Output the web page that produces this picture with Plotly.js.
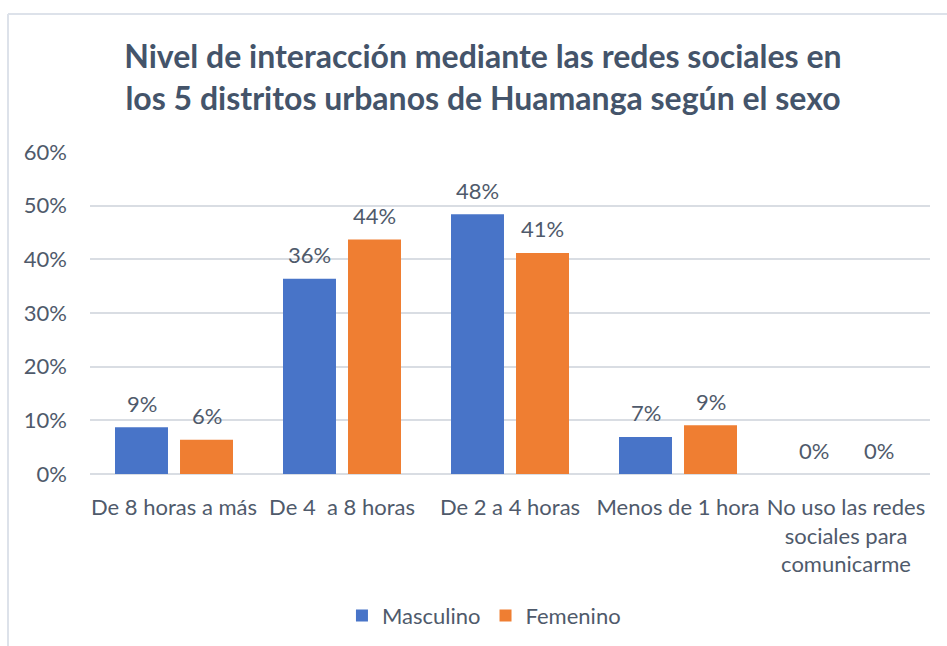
<!DOCTYPE html>
<html>
<head>
<meta charset="utf-8">
<script src="https://cdn.plot.ly/plotly-3.0.1.min.js"></script>
<style>html,body{margin:0;padding:0;background:#fff;}#chart{width:947px;height:646px;}</style>
</head>
<body>
<div id="chart"></div>
<script>
var categories = ["De 8 horas a más", "De 4  a 8 horas", "De 2 a 4 horas", "Menos de 1 hora", "No uso las redes<br>sociales para<br>comunicarme"];
var masculino = [0.087, 0.364, 0.484, 0.069, 0];
var femenino = [0.064, 0.437, 0.412, 0.091, 0];
var seriesNames = ["Masculino", "Femenino"];
var yTicks = [0, 0.1, 0.2, 0.3, 0.4, 0.5, 0.6];

var textColor = "#4f5a6b";
var fontFam = "Lato, 'Open Sans', sans-serif";
var fs = 22;

function barTrace(name, vals, color) {
  return {
    type: "bar", name: name, x: categories, y: vals,
    marker: {color: color},
    hoverinfo: "x+y"
  };
}

var data = [
  barTrace(seriesNames[0], masculino, "#4874c8"),
  barTrace(seriesNames[1], femenino, "#ef7e32")
];

var annotations = [];
[masculino, femenino].forEach(function(vals, si) {
  vals.forEach(function(v, i) {
    annotations.push({
      x: categories[i], y: v, xref: "x", yref: "y",
      text: Math.round(v * 100) + "%",
      showarrow: false, xshift: si === 0 ? -32.5 : 32.5, yshift: 24,
      yanchor: "middle", xanchor: "center",
      font: {family: fontFam, size: fs, color: textColor}
    });
  });
});

var layout = {
  width: 947, height: 646,
  margin: {l: 90, r: 17, t: 152, b: 172, autoexpand: false},
  paper_bgcolor: "#ffffff", plot_bgcolor: "#ffffff",
  title: {
    text: "<b>Nivel de interacción mediante las redes sociales en<br>los 5 distritos urbanos de Huamanga según el sexo</b>",
    font: {family: fontFam, size: 32, color: "#44546a"},
    x: 0.51, xanchor: "center", y: 0.894, yanchor: "middle"
  },
  barmode: "group", bargap: 0.226, bargroupgap: 0.185,
  xaxis: {
    type: "category", showgrid: false, zeroline: false, showline: false,
    tickfont: {family: fontFam, size: fs, color: textColor},
    ticks: "", ticklabelstandoff: 18, automargin: false
  },
  yaxis: {
    range: [0, 0.6], tickvals: yTicks, tickformat: ".0%",
    showgrid: true, gridcolor: "#d9dde3", gridwidth: 1.5,
    zeroline: true, zerolinecolor: "#d9dde3", zerolinewidth: 1.5,
    showline: false, ticks: "",
    tickfont: {family: fontFam, size: fs, color: textColor},
    ticklabelstandoff: 22, automargin: false
  },
  showlegend: true,
  legend: {
    orientation: "h", x: 0.469, xanchor: "center", y: -0.44, yanchor: "middle",
    font: {family: fontFam, size: fs, color: textColor},
    itemwidth: 30, traceorder: "normal"
  },
  annotations: annotations,
  shapes: [
    {type: "line", xref: "paper", yref: "paper",
     x0: (8-90)/840, x1: (947-90)/840, y0: (474-14)/322, y1: (474-14)/322,
     line: {color: "#dde2ea", width: 2}, layer: "below"},
    {type: "line", xref: "paper", yref: "paper",
     x0: (8-90)/840, x1: (8-90)/840, y0: (474-14)/322, y1: (474-646)/322,
     line: {color: "#dde2ea", width: 2}, layer: "below"}
  ]
};

Plotly.newPlot("chart", data, layout, {displayModeBar: false, responsive: false});
</script>
</body>
</html>
